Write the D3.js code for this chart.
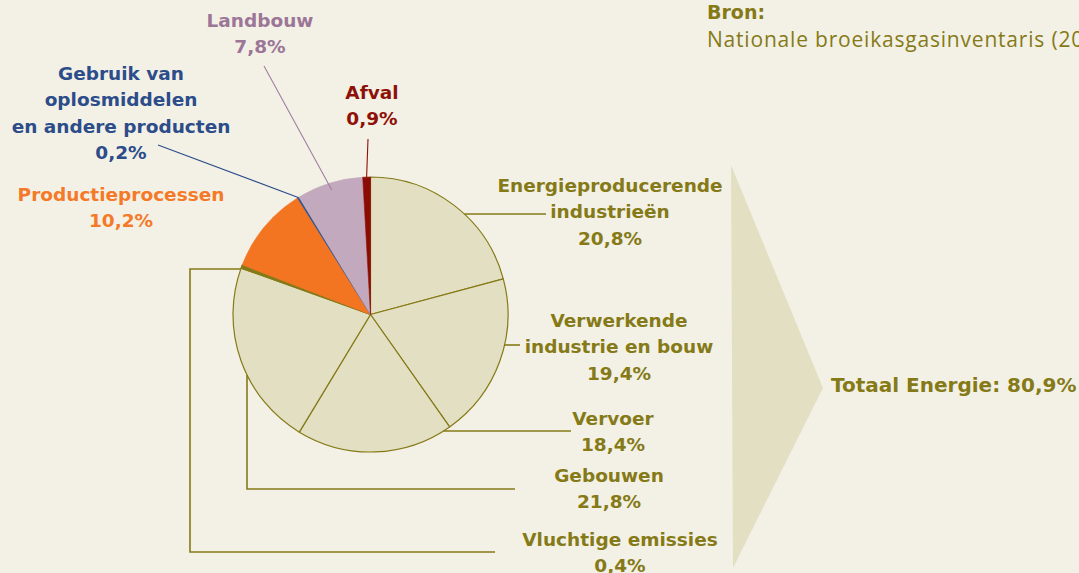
<!DOCTYPE html>
<html>
<head>
<meta charset="utf-8">
<script src="https://cdn.jsdelivr.net/npm/d3@7"></script>
<style>
  html, body { margin: 0; padding: 0; background: #f3f1e6; overflow: hidden; }
  svg { display: block; }
  .lbl { font-family: "DejaVu Sans", sans-serif; font-weight: bold; font-size: 18.5px; }
</style>
</head>
<body>
<svg id="chart" width="1079" height="573"></svg>
<script>
// sector shares, clockwise from 12 o'clock
const categories = [
  'Energieproducerende industrieën',
  'Verwerkende industrie en bouw',
  'Vervoer',
  'Gebouwen',
  'Vluchtige emissies',
  'Productieprocessen',
  'Gebruik van oplosmiddelen en andere producten',
  'Landbouw',
  'Afval'
];
const values = [20.8, 19.4, 18.4, 21.8, 0.4, 10.2, 0.2, 7.8, 0.9];
const labelLines = [
  ['Energieproducerende', 'industrieën'],
  ['Verwerkende', 'industrie en bouw'],
  ['Vervoer'],
  ['Gebouwen'],
  ['Vluchtige emissies'],
  ['Productieprocessen'],
  ['Gebruik van', 'oplosmiddelen', 'en andere producten'],
  ['Landbouw'],
  ['Afval']
];
const totalLabel = 'Totaal Energie: 80,9%';
const sourceTitle = 'Bron:';
const sourceText = 'Nationale broeikasgasinventaris (2011)';

const olive = '#857a17';
const sliceFill = ['#e3dfc2', '#e3dfc2', '#e3dfc2', '#e3dfc2', '#857a17', '#f37421', '#2b4f8e', '#c3a9bd', '#8b0c04'];
const textFill = [olive, olive, olive, olive, olive, '#f47a29', '#2c4c8a', '#9c7697', '#8e1006'];

const svg = d3.select('#chart');
const cx = 370.5, cy = 314.5, r = 137.5;

// arrow behind the total
svg.append('path')
  .attr('d', 'M731,165 L823,388 L733,568 Z')
  .attr('fill', '#e3dfc3');

const pie = d3.pie().sort(null).value(d => d);
const arcs = pie(values);
const arc = d3.arc().innerRadius(0).outerRadius(r);

const g = svg.append('g').attr('transform', `translate(${cx},${cy})`);
g.selectAll('path')
  .data(arcs)
  .join('path')
  .attr('d', arc)
  .attr('fill', (d, i) => sliceFill[i])
  .attr('stroke', (d, i) => i < 5 ? olive : sliceFill[i])
  .attr('stroke-width', (d, i) => i < 5 ? 1.2 : 0.6)
  .attr('stroke-linejoin', 'round');

// point on the rim at a given angle (radians, clockwise from top)
function rim(a, k = 1) {
  return [cx + Math.sin(a) * r * k, cy - Math.cos(a) * r * k];
}
const mid = d => (d.startAngle + d.endAngle) / 2;
const rimXRight = y => cx + Math.sqrt(r * r - (y - cy) ** 2);
const rimXLeft = y => cx - Math.sqrt(r * r - (y - cy) ** 2);
const rimYBottom = x => cy + Math.sqrt(r * r - (x - cx) ** 2);

// label anchors and leader routes
const labelPos = [
  { x: 610, y: 192 }, { x: 619, y: 327 }, { x: 613, y: 425 }, { x: 609, y: 482 },
  { x: 620, y: 546 }, { x: 121, y: 201 }, { x: 121, y: 80 }, { x: 260, y: 27 }, { x: 372, y: 99 }
];
const leaders = [
  [[rimXRight(214), 214], [546, 214]],
  [[rimXRight(345), 345], [520, 345]],
  [[rimXRight(431), 431], [571, 431]],
  [[247, rimYBottom(247)], [247, 489], [515, 489]],
  [[rimXLeft(269), 269], [190, 269], [190, 552], [495, 552]],
  null,
  [[158, 145], rim(mid(arcs[6]))],
  [[264, 66], rim(mid(arcs[7]), 0.95)],
  [[368, 139], rim(mid(arcs[8]))]
];

const line = d3.line();
svg.append('g')
  .selectAll('path')
  .data(leaders.map((p, i) => ({ p, i })).filter(d => d.p))
  .join('path')
  .attr('d', d => line(d.p))
  .attr('fill', 'none')
  .attr('stroke', d => d.i < 5 ? olive : (d.i === 7 ? '#a07fa0' : textFill[d.i]))
  .attr('stroke-width', d => d.i < 5 ? 1.6 : 1.1);

const fmt = v => d3.format('.1f')(v).replace('.', ',') + '%';

const labels = svg.append('g').attr('class', 'lbl');
labelLines.forEach((lines, i) => {
  const t = labels.append('text')
    .attr('text-anchor', 'middle')
    .attr('fill', textFill[i]);
  lines.concat([fmt(values[i])]).forEach((s, j) => {
    t.append('tspan')
      .attr('x', labelPos[i].x)
      .attr('y', labelPos[i].y + j * 26.3)
      .text(s);
  });
});

svg.append('text')
  .attr('class', 'lbl')
  .attr('x', 831)
  .attr('y', 392)
  .attr('fill', olive)
  .style('font-size', '20px')
  .text(totalLabel);

svg.append('text')
  .attr('x', 707).attr('y', 19)
  .attr('fill', olive)
  .style('font-family', '"DejaVu Sans", sans-serif')
  .style('font-weight', 'bold')
  .style('font-size', '19px')
  .text(sourceTitle);

svg.append('text')
  .attr('x', 707).attr('y', 47)
  .attr('fill', olive)
  .style('font-family', '"Open Sans", sans-serif')
  .style('font-size', '21px')
  .style('letter-spacing', '0.8px')
  .text(sourceText);
</script>
</body>
</html>
